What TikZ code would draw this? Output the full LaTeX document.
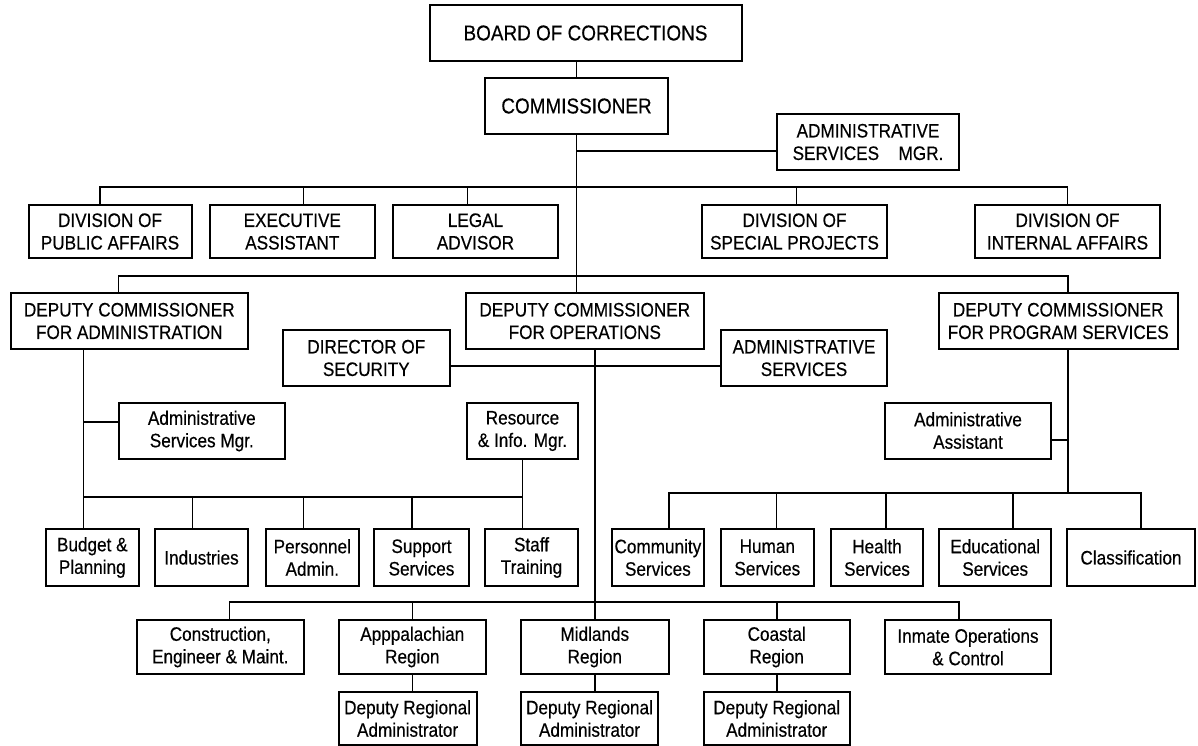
\documentclass[tikz,border=0pt]{standalone}
\usepackage{fontspec}
\setmainfont[FakeStretch=0.88,FakeBold=0.4]{Liberation Sans}
\newcommand{\chartfont}{\fontsize{19.5}{22.5}\selectfont}
\newcommand{\headfont}{\fontsize{21.5}{24}\selectfont}

\begin{document}
\begin{tikzpicture}[
    x=1pt,
    y=-1pt,
    every node/.style={
        font=\chartfont,
        align=center
    },
    unit/.style={
        draw,
        line width=2pt,
        inner sep=1pt,
        minimum height=56pt
    },
    headunit/.style={
        unit,
        font=\headfont
    },
    link/.style={
        line width=1.6pt
    }
]

\useasboundingbox (0,0) rectangle (1198,746);

% top of the chart
\node[headunit, minimum width=312pt] (board) at (585.5,33) {BOARD OF CORRECTIONS};
\node[headunit, minimum width=183pt] (comm) at (576.5,106) {COMMISSIONER};
\node[unit, minimum width=182pt] (asmgr) at (868,142) {ADMINISTRATIVE\\SERVICES\quad MGR.};

% divisions
\node[unit, minimum width=163pt, minimum height=53pt] (pubaff) at (110,231.5) {DIVISION OF\\PUBLIC AFFAIRS};
\node[unit, minimum width=165pt, minimum height=53pt] (execasst) at (292.3,231.5) {EXECUTIVE\\ASSISTANT};
\node[unit, minimum width=165pt, minimum height=53pt] (legal) at (475.5,231.5) {LEGAL\\ADVISOR};
\node[unit, minimum width=185pt, minimum height=53pt] (specproj) at (794.5,231.5) {DIVISION OF\\SPECIAL PROJECTS};
\node[unit, minimum width=185pt, minimum height=53pt] (intaff) at (1067.5,231.5) {DIVISION OF\\INTERNAL AFFAIRS};

% deputy commissioners
\node[unit, minimum width=237pt] (depadmin) at (129.3,321) {DEPUTY COMMISSIONER\\FOR ADMINISTRATION};
\node[unit, minimum width=238pt] (depops) at (584.8,321) {DEPUTY COMMISSIONER\\FOR OPERATIONS};
\node[unit, minimum width=239pt] (depprog) at (1058.2,321) {DEPUTY COMMISSIONER\\FOR PROGRAM SERVICES};

\node[unit, minimum width=167pt] (dirsec) at (366.3,358) {DIRECTOR OF\\SECURITY};
\node[unit, minimum width=166pt] (opsadmin) at (804,358) {ADMINISTRATIVE\\SERVICES};

\node[unit, minimum width=166pt] (adminmgr) at (201.8,431) {Administrative\\Services Mgr.};
\node[unit, minimum width=111pt] (resinfo) at (522.5,431) {Resource\\\& Info. Mgr.};
\node[unit, minimum width=166pt] (adasst) at (968,430.5) {Administrative\\Assistant};

% administration and program units
\node[unit, minimum width=92.5pt, minimum height=57pt] (budget) at (92.3,557.5) {Budget \&\\Planning};
\node[unit, minimum width=93pt, minimum height=57pt] (industries) at (201.5,557.5) {Industries};
\node[unit, minimum width=93.4pt, minimum height=57pt] (personnel) at (312.3,557.5) {Personnel\\Admin.};
\node[unit, minimum width=95pt, minimum height=57pt] (support) at (421.5,557.5) {Support\\Services};
\node[unit, minimum width=93pt, minimum height=57pt] (staff) at (531.5,557.5) {Staff\\Training};

\node[unit, minimum width=91.7pt, minimum height=57pt] (community) at (657.9,557.5) {Community\\Services};
\node[unit, minimum width=92.6pt, minimum height=57pt] (human) at (767.3,557.5) {Human\\Services};
\node[unit, minimum width=92.7pt, minimum height=57pt] (health) at (877,557.5) {Health\\Services};
\node[unit, minimum width=111.6pt, minimum height=57pt] (educ) at (995.2,557.5) {Educational\\Services};
\node[unit, minimum width=128pt, minimum height=57pt] (classif) at (1131,557.5) {Classification};

% regions
\node[unit, minimum width=166.5pt, minimum height=54pt] (constr) at (220.3,647) {Construction,\\Engineer \& Maint.};
\node[unit, minimum width=147.3pt, minimum height=54pt] (appal) at (412.3,647) {Apppalachian\\Region};
\node[unit, minimum width=147.6pt, minimum height=54pt] (midlands) at (594.8,647) {Midlands\\Region};
\node[unit, minimum width=146pt, minimum height=54pt] (coastal) at (776.7,647) {Coastal\\Region};
\node[unit, minimum width=166pt, minimum height=54pt] (inmate) at (968,647) {Inmate Operations\\\& Control};

\node[unit, minimum width=137.8pt, minimum height=53pt] (appdep) at (407.6,718.5) {Deputy Regional\\Administrator};
\node[unit, minimum width=137pt, minimum height=53pt] (middep) at (589.5,718.5) {Deputy Regional\\Administrator};
\node[unit, minimum width=146pt, minimum height=53pt] (coastdep) at (776.7,718.5) {Deputy Regional\\Administrator};

% bars
\coordinate (divbar) at (0,187);
\coordinate (depbar) at (0,276);
\coordinate (adminbar) at (0,497);
\coordinate (progbar) at (0,493);
\coordinate (regbar) at (0,602);
\coordinate (admintrunk) at ([xshift=-46pt]depadmin.south);
\coordinate (progtrunk) at ([xshift=10pt]depprog.south);

% commissioner lines
\draw[link] (comm.north) -- (comm.north |- board.south);
\draw[link] (comm.south) -- (comm.south |- depops.north);
\draw[link] ([yshift=-9pt]asmgr.west) -- ([yshift=-9pt]asmgr.west -| comm.south);

\draw[link] ([xshift=-10pt]pubaff.north) |- (intaff.north |- divbar) -- (intaff.north);
\draw[link] ([xshift=11pt]execasst.north) -- ([xshift=11pt]execasst.north |- divbar);
\draw[link] ([xshift=-8pt]legal.north) -- ([xshift=-8pt]legal.north |- divbar);
\draw[link] ([xshift=2pt]specproj.north) -- ([xshift=2pt]specproj.north |- divbar);

\draw[link] ([xshift=-11pt]depadmin.north) |- ([xshift=10pt]depprog.north |- depbar) -- ([xshift=10pt]depprog.north);

% administration
\draw[link] (admintrunk) -- (admintrunk |- budget.north);
\draw[link] ([yshift=9pt]adminmgr.west) -- ([yshift=9pt]adminmgr.west -| admintrunk);
\draw[link] (admintrunk |- adminbar) -- (resinfo.south |- adminbar);
\draw[link] (resinfo.south) -- (resinfo.south |- staff.north);
\draw[link] ([xshift=-9pt]industries.north) -- ([xshift=-9pt]industries.north |- adminbar);
\draw[link] ([xshift=-9pt]personnel.north) -- ([xshift=-9pt]personnel.north |- adminbar);
\draw[link] ([xshift=-9.5pt]support.north) -- ([xshift=-9.5pt]support.north |- adminbar);

% operations
\draw[link] ([xshift=10pt]depops.south) -- (midlands.north);
\draw[link] ([yshift=-8pt]dirsec.east) -- ([yshift=-8pt]opsadmin.west);
\draw[link] ([xshift=9pt]constr.north) |- ([xshift=-9pt]inmate.north |- regbar) -- ([xshift=-9pt]inmate.north);
\draw[link] (appal.north) -- (appal.north |- regbar);
\draw[link] (coastal.north) -- (coastal.north |- regbar);
\draw[link] (appal.south) -- (appal.south |- appdep.north);
\draw[link] (midlands.south) -- (midlands.south |- middep.north);
\draw[link] (coastal.south) -- (coastdep.north);

% program services
\draw[link] (progtrunk) -- (progtrunk |- progbar);
\draw[link] ([yshift=-9.5pt]adasst.east) -- ([yshift=-9.5pt]adasst.east -| progtrunk);
\draw[link] ([xshift=11pt]community.north) |- ([xshift=10pt]classif.north |- progbar) -- ([xshift=10pt]classif.north);
\draw[link] ([xshift=9pt]human.north) -- ([xshift=9pt]human.north |- progbar);
\draw[link] ([xshift=9pt]health.north) -- ([xshift=9pt]health.north |- progbar);
\draw[link] ([xshift=17.5pt]educ.north) -- ([xshift=17.5pt]educ.north |- progbar);

\end{tikzpicture}
\end{document}
